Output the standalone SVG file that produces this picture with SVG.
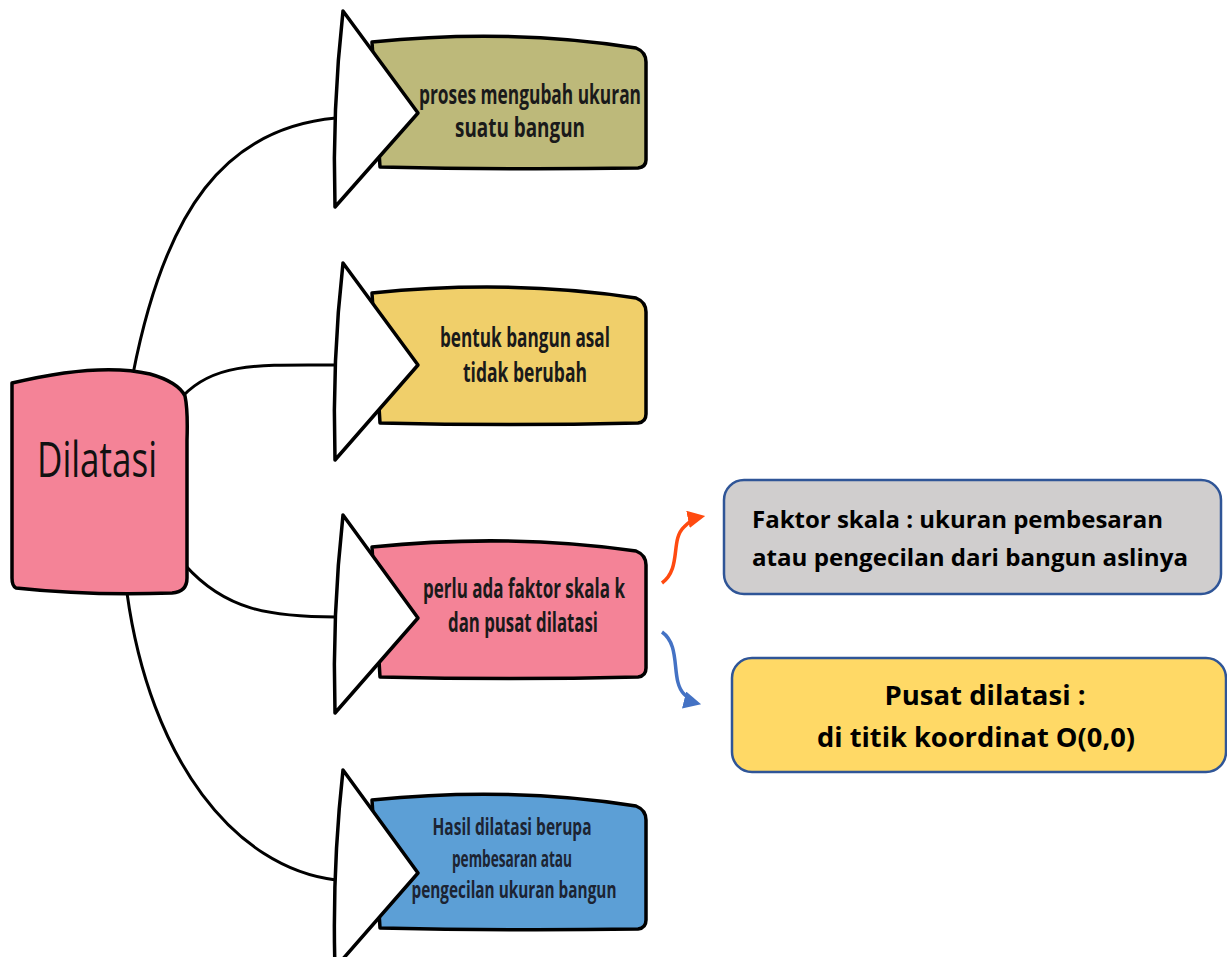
<svg xmlns="http://www.w3.org/2000/svg" width="1227" height="957" viewBox="0 0 1227 957">
<defs>
<style>
.conn{fill:none;stroke:#000;stroke-width:3;stroke-linecap:round}
.box{stroke:#000;stroke-width:3.5;stroke-linejoin:round}
.tri{fill:#fff;stroke:#000;stroke-width:3.5;stroke-linejoin:round}
.nt{font-family:"Open Sans","DejaVu Sans",sans-serif;font-weight:700;font-size:26px;fill:#1a1a1a;text-anchor:middle}
.n4{font-size:24px;fill:#1c2433}
.rt{font-family:"Open Sans","DejaVu Sans",sans-serif;font-weight:700;fill:#000}
.rbox{stroke:#2f5597;stroke-width:2.5}
</style>
<marker id="ar" viewBox="0 0 10 10" refX="7" refY="5" markerWidth="5" markerHeight="5" orient="auto" markerUnits="strokeWidth">
<path d="M0,0 L10,5 L0,10 Z" fill="#ff4a10"/>
</marker>
<marker id="ab" viewBox="0 0 10 10" refX="7" refY="5" markerWidth="5" markerHeight="5" orient="auto" markerUnits="strokeWidth">
<path d="M0,0 L10,5 L0,10 Z" fill="#4472c4"/>
</marker>
</defs>
<rect width="1227" height="957" fill="#fff"/>
<g id="connectors">
<path class="conn" d="M133,374 C165,210 225,128 336,118"/>
<path class="conn" d="M183,396 C215,362 260,365 336,365"/>
<path class="conn" d="M185,565 C225,610 270,617 336,617"/>
<path class="conn" d="M127,593 C150,760 235,868 336,880"/>
<path d="M662,583 C682,568 670,540 684,527 C690,521 695,518 700,517" fill="none" stroke="#ff4a10" stroke-width="3.5" marker-end="url(#ar)"/>
<path d="M662,632 C682,646 670,680 684,694 C689,699 692,702 696,703" fill="none" stroke="#4472c4" stroke-width="3.5" marker-end="url(#ab)"/>
</g>
<g id="dilatasi">
<path class="box" fill="#f48397" d="M12,383 Q100,362 150,374 Q178,382 185,396 Q188,410 187,440 L187,578 Q187,592 172,593 Q90,596 16,588 Q12,586 12,578 Z"/>
<text x="97" y="477" font-family="Open Sans, DejaVu Sans, sans-serif" font-size="50" fill="#111" textLength="120" lengthAdjust="spacingAndGlyphs" text-anchor="middle">Dilatasi</text>
</g>
<g id="node1">
<path class="box" fill="#bdb97a" d="M372,42 Q510,28 636,48 Q646,52 646,62 L646,160 Q646,167 638,168 Q510,170 380,167 Z"/>
<path class="tri" d="M343,11 Q332,110 335,207 L418,113 Z"/>
<text class="nt" x="530" y="104" textLength="222" lengthAdjust="spacingAndGlyphs">proses mengubah ukuran</text>
<text class="nt" x="520" y="137" textLength="130" lengthAdjust="spacingAndGlyphs">suatu bangun</text>
</g>
<g id="node2">
<path class="box" fill="#f0cf6a" d="M372,293 Q510,279 636,298 Q646,302 646,312 L646,414 Q646,422 638,423 Q510,426 380,423 Z"/>
<path class="tri" d="M343,263 Q332,360 335,460 L418,365 Z"/>
<text class="nt" x="525" y="347" textLength="170" lengthAdjust="spacingAndGlyphs">bentuk bangun asal</text>
<text class="nt" x="525" y="382" textLength="124" lengthAdjust="spacingAndGlyphs">tidak berubah</text>
</g>
<g id="node3">
<path class="box" fill="#f48397" d="M372,547 Q510,533 636,551 Q646,555 646,565 L646,668 Q646,676 638,677 Q510,680 380,677 Z"/>
<path class="tri" d="M343,515 Q332,615 335,713 L418,618 Z"/>
<text class="nt" x="524" y="598" textLength="202" lengthAdjust="spacingAndGlyphs">perlu ada faktor skala k</text>
<text class="nt" x="523" y="632" textLength="150" lengthAdjust="spacingAndGlyphs">dan pusat dilatasi</text>
</g>
<g id="node4">
<path class="box" fill="#5c9fd6" d="M372,800 Q510,786 636,806 Q646,810 646,820 L646,920 Q646,928 638,929 Q510,931 380,928 Z"/>
<path class="tri" d="M343,770 Q332,870 335,968 L418,873 Z"/>
<text class="nt n4" x="512" y="835" textLength="159" lengthAdjust="spacingAndGlyphs">Hasil dilatasi berupa</text>
<text class="nt n4" x="512" y="867" textLength="120" lengthAdjust="spacingAndGlyphs">pembesaran atau</text>
<text class="nt n4" x="514" y="898" textLength="205" lengthAdjust="spacingAndGlyphs">pengecilan ukuran bangun</text>
</g>
<g id="faktor">
<rect class="rbox" x="724" y="480" width="497" height="114" rx="20" fill="#d0cece"/>
<text class="rt" x="752" y="528" font-size="23" textLength="411" lengthAdjust="spacingAndGlyphs">Faktor skala : ukuran pembesaran</text>
<text class="rt" x="752" y="566" font-size="23" textLength="436" lengthAdjust="spacingAndGlyphs">atau pengecilan dari bangun aslinya</text>
</g>
<g id="pusat">
<rect class="rbox" x="732" y="658" width="494" height="114" rx="20" fill="#ffd966"/>
<text class="rt" x="985" y="705" font-size="26" text-anchor="middle" textLength="201" lengthAdjust="spacingAndGlyphs">Pusat dilatasi :</text>
<text class="rt" x="976" y="747" font-size="26" text-anchor="middle" textLength="318" lengthAdjust="spacingAndGlyphs">di titik koordinat O(0,0)</text>
</g>
</svg>
